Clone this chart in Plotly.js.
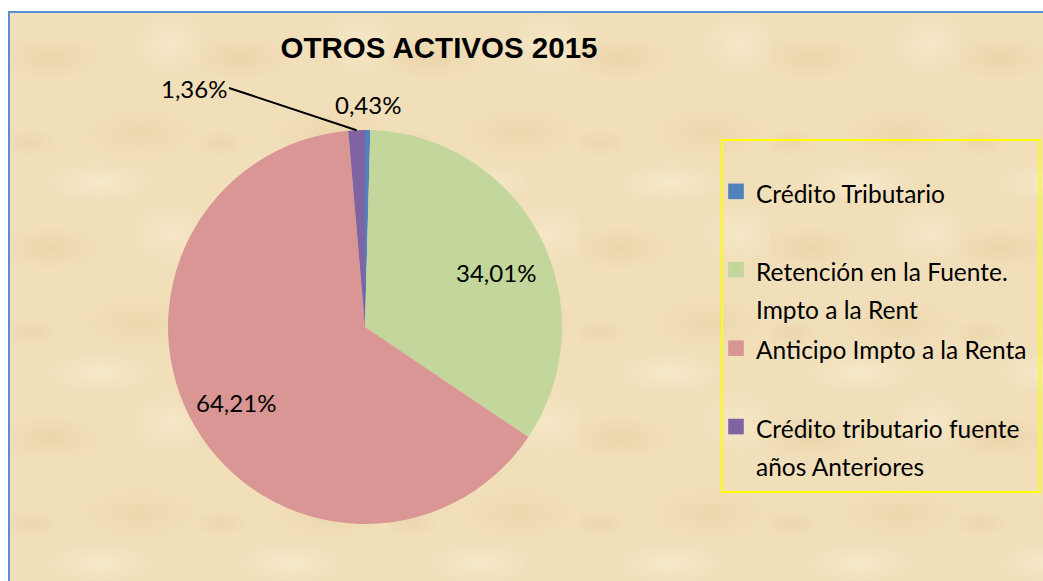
<!DOCTYPE html>
<html>
<head>
<meta charset="utf-8">
<script src="https://cdn.plot.ly/plotly-3.0.1.min.js"></script>
<style>
  html, body { margin: 0; padding: 0; background: #ffffff; }
  #wrap { position: relative; width: 1043px; height: 581px; overflow: hidden; }
  #paper {
    position: absolute; left: 8px; top: 11px; width: 1100px; height: 640px;
    border-left: 2px solid #5b8fd5; border-top: 2px solid #5b8fd5;
    background-color: #f1dfba;
    background-image:
      radial-gradient(ellipse 70px 30px at 40px 45px, rgba(214,178,118,0.22), rgba(214,178,118,0) 75%),
      radial-gradient(ellipse 80px 36px at 130px 120px, rgba(214,178,118,0.18), rgba(214,178,118,0) 75%),
      radial-gradient(ellipse 70px 26px at 90px 170px, rgba(255,246,224,0.40), rgba(255,246,224,0) 75%),
      radial-gradient(ellipse 50px 40px at 160px 30px, rgba(255,246,224,0.35), rgba(255,246,224,0) 75%),
      radial-gradient(ellipse 40px 18px at 20px 130px, rgba(205,168,110,0.16), rgba(205,168,110,0) 75%);
    background-size: 190px 190px;
  }
  #chart { position: absolute; left: 0; top: 0; width: 1043px; height: 581px; }
</style>
</head>
<body>
<div id="wrap">
  <div id="paper"></div>
  <div id="chart"></div>
</div>
<script>
const categories = [
  'Crédito Tributario',
  'Retención en la Fuente.<br>Impto a la Rent',
  'Anticipo Impto a la Renta',
  'Crédito tributario fuente<br>años Anteriores'
];
const values = [0.43, 34.01, 64.21, 1.36];
const colors = ['#4f81bd', '#c3d69b', '#d99694', '#8064a2'];
const chartTitle = 'OTROS ACTIVOS 2015';

const W = 1043, H = 581;
const cx = 365, cy = 327, R = 197;

const textSize = 24.5;
// legend labels: every entry takes two lines, glyphs drawn at textSize
const legendLabels = categories.map(c => {
  const two = c.indexOf('<br>') >= 0 ? c : c + '<br> ';
  return two.split('<br>').map(s => '<span style="font-size:' + textSize + 'px">' + s + '</span>').join('<br>');
});

const labelFont = {family: 'Lato, "Liberation Sans", sans-serif', size: 24, color: '#000000'};

const trace = {
  type: 'pie',
  labels: legendLabels,
  values: values,
  sort: false,
  direction: 'clockwise',
  rotation: 0,
  marker: {colors: colors, line: {width: 0}},
  domain: {x: [(cx - R) / W, (cx + R) / W], y: [(H - cy - R) / H, (H - cy + R) / H]},
  textinfo: 'none',
  hoverinfo: 'none'
};

// data labels, positioned from the slice angles
const total = values.reduce((a, b) => a + b, 0);
const fmt = v => v.toFixed(2).replace('.', ',') + '%';
let cum = 0;
const mids = values.map(v => { const m = (cum + v / 2) / total; cum += v; return m * 2 * Math.PI; });
const pt = (ang, r) => [cx + r * Math.sin(ang), cy - r * Math.cos(ang)];
const toPaper = p => [p[0] / W, 1 - p[1] / H];

const annotations = [];
// slice 0: small slice, label outside above
{
  const p = toPaper(pt(mids[0], R + 26));
  annotations.push({xref: 'paper', yref: 'paper', x: p[0], y: p[1], text: fmt(values[0]),
    showarrow: false, xanchor: 'center', yanchor: 'middle', font: labelFont});
}
// slices 1 and 2: large slices, label inside
[[1, 0.72, 0.08], [2, 0.76, 0]].forEach(([i, rf, da]) => {
  const p = toPaper(pt(mids[i] + da, R * rf));
  annotations.push({xref: 'paper', yref: 'paper', x: p[0], y: p[1], text: fmt(values[i]),
    showarrow: false, xanchor: 'center', yanchor: 'middle', font: labelFont});
});
// slice 3: leader line label
{
  const tip = pt(mids[3], R);
  const p = toPaper(tip);
  annotations.push({xref: 'paper', yref: 'paper', x: p[0], y: p[1], text: fmt(values[3]),
    showarrow: true, arrowhead: 0, arrowwidth: 2, arrowcolor: '#000000',
    ax: 229 - tip[0], ay: 88 - tip[1], axref: 'pixel', ayref: 'pixel',
    xanchor: 'right', yanchor: 'middle', standoff: 0, startstandoff: 0, font: labelFont});
}

const layout = {
  width: W, height: H,
  margin: {l: 0, r: 0, t: 0, b: 0},
  paper_bgcolor: 'rgba(0,0,0,0)',
  plot_bgcolor: 'rgba(0,0,0,0)',
  separators: ',.',
  title: {
    text: chartTitle,
    x: 439 / W, xanchor: 'center', xref: 'paper',
    y: 1 - 48 / H, yanchor: 'middle', yref: 'paper',
    font: {family: '"Liberation Sans", Arial, sans-serif', size: 29.5, weight: 'bold', color: '#000000'}
  },
  showlegend: true,
  legend: {
    x: 716 / W, xanchor: 'left',
    y: 1 - 166 / H, yanchor: 'top',
    bgcolor: 'rgba(0,0,0,0)',
    borderwidth: 0,
    valign: 'top',
    font: {family: 'Lato, "Liberation Sans", sans-serif', size: 29, color: '#000000'}
  },
  shapes: [{
    type: 'rect', xref: 'paper', yref: 'paper',
    x0: 722 / W, x1: 1040 / W, y0: 1 - 492 / H, y1: 1 - 140 / H,
    line: {color: '#ffff00', width: 2}, fillcolor: 'rgba(0,0,0,0)'
  }],
  annotations: annotations
};

Plotly.newPlot('chart', [trace], layout, {displayModeBar: false, staticPlot: true}).then(() => {
  // enlarge the legend swatches to match the reference
  document.querySelectorAll('#chart .legendpoints path').forEach(p => {
    const t = p.getAttribute('transform') || '';
    p.setAttribute('transform', t + ' scale(1.3)');
  });
});
</script>
</body>
</html>
